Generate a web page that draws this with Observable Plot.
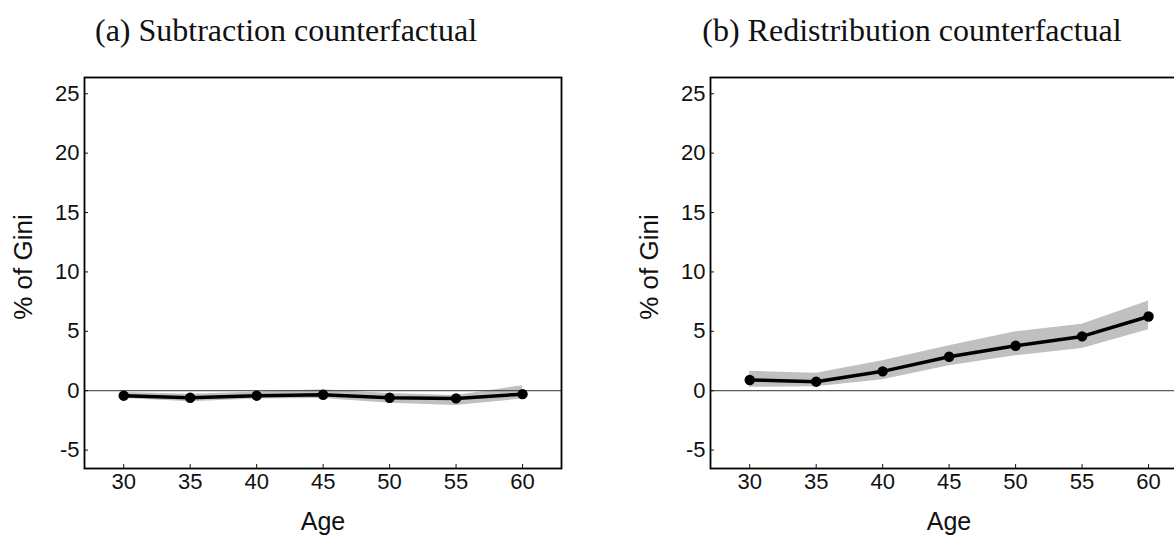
<!DOCTYPE html>
<html>
<head>
<meta charset="utf-8">
<script src="https://cdn.jsdelivr.net/npm/d3@7"></script>
<script src="https://cdn.jsdelivr.net/npm/@observablehq/plot@0.6"></script>
<style>
  html, body { margin: 0; padding: 0; background: #fff; overflow: hidden; width: 1174px; height: 538px; }
  #wrap { position: relative; width: 1174px; height: 538px; overflow: hidden; }
  .title { position: absolute; width: 700px; text-align: center; font-family: "Liberation Serif", "DejaVu Serif", serif; font-size: 32px; line-height: 32px; color: #111; white-space: nowrap; }
  .panel { position: absolute; top: 60px; width: 581px; height: 478px; }
  .panel svg { max-width: none !important; }
</style>
</head>
<body>
<div id="wrap"></div>
<script>
// ---- data ----
const ages = [30, 35, 40, 45, 50, 55, 60];
const subEst = [-0.42, -0.59, -0.42, -0.34, -0.59, -0.65, -0.29];
const subLo  = [-0.65, -0.92, -0.70, -0.65, -1.06, -1.24, -0.70];
const subHi  = [-0.15, -0.30, -0.10, 0.08, -0.23, -0.40, 0.42];
const redEst = [0.90, 0.76, 1.63, 2.86, 3.78, 4.57, 6.25];
const redLo  = [0.29, 0.34, 0.92, 2.10, 2.94, 3.56, 5.13];
const redHi  = [1.63, 1.46, 2.52, 3.78, 4.96, 5.60, 7.56];
const yTicks = [-5, 0, 5, 10, 15, 20, 25];
const xTicks = [30, 35, 40, 45, 50, 55, 60];
const titles = ["(a) Subtraction counterfactual", "(b) Redistribution counterfactual"];
const yLabel = "% of Gini";
const xLabel = "Age";

const wrap = document.getElementById("wrap");

function makePanel(est, lo, hi) {
  const rows = ages.map((a, i) => ({age: a, est: est[i], lo: lo[i], hi: hi[i]}));
  return Plot.plot({
    width: 581,
    height: 478,
    marginTop: 17,
    marginBottom: 70,
    marginLeft: 84,
    marginRight: 20,
    style: {fontFamily: "'Liberation Sans', Arial, sans-serif", background: "transparent", color: "#111", overflow: "visible", maxWidth: "none"},
    x: {domain: [27.05, 62.93]},
    y: {domain: [-6.55, 26.37]},
    marks: [
      Plot.areaY(rows, {x: "age", y1: "lo", y2: "hi", fill: "#c0c0c0"}),
      Plot.ruleY([0], {stroke: "#333", strokeWidth: 1}),
      Plot.line(rows, {x: "age", y: "est", stroke: "#000", strokeWidth: 3.5}),
      Plot.dot(rows, {x: "age", y: "est", r: 5.2, fill: "#000"}),
      Plot.axisY({ticks: yTicks, tickSize: 4, insetLeft: 4, tickPadding: 5, fontSize: 22, label: null, tickFormat: d => String(d)}),
      Plot.axisX({ticks: xTicks, tickSize: 4, insetBottom: 4, tickPadding: 5, fontSize: 22, label: null}),
      Plot.text([yLabel], {frameAnchor: "left", textAnchor: "middle", lineAnchor: "middle", dx: -61, dy: -6, rotate: -90, fontSize: 26, fill: "#111"}),
      Plot.text([xLabel], {frameAnchor: "bottom", textAnchor: "middle", lineAnchor: "middle", dy: 53, fontSize: 25, fill: "#111"}),
      Plot.frame({stroke: "#000", strokeWidth: 1.8})
    ]
  });
}

const panels = [
  {est: subEst, lo: subLo, hi: subHi, left: 0, titleCenter: 286},
  {est: redEst, lo: redLo, hi: redHi, left: 626, titleCenter: 912}
];

panels.forEach((p, i) => {
  const t = document.createElement("div");
  t.className = "title";
  t.textContent = titles[i];
  t.style.left = (p.titleCenter - 350) + "px";
  t.style.top = "14px";
  wrap.appendChild(t);
  const svg = makePanel(p.est, p.lo, p.hi);
  const holder = document.createElement("div");
  holder.className = "panel";
  holder.style.left = p.left + "px";
  holder.appendChild(svg);
  wrap.appendChild(holder);
});
</script>
</body>
</html>
